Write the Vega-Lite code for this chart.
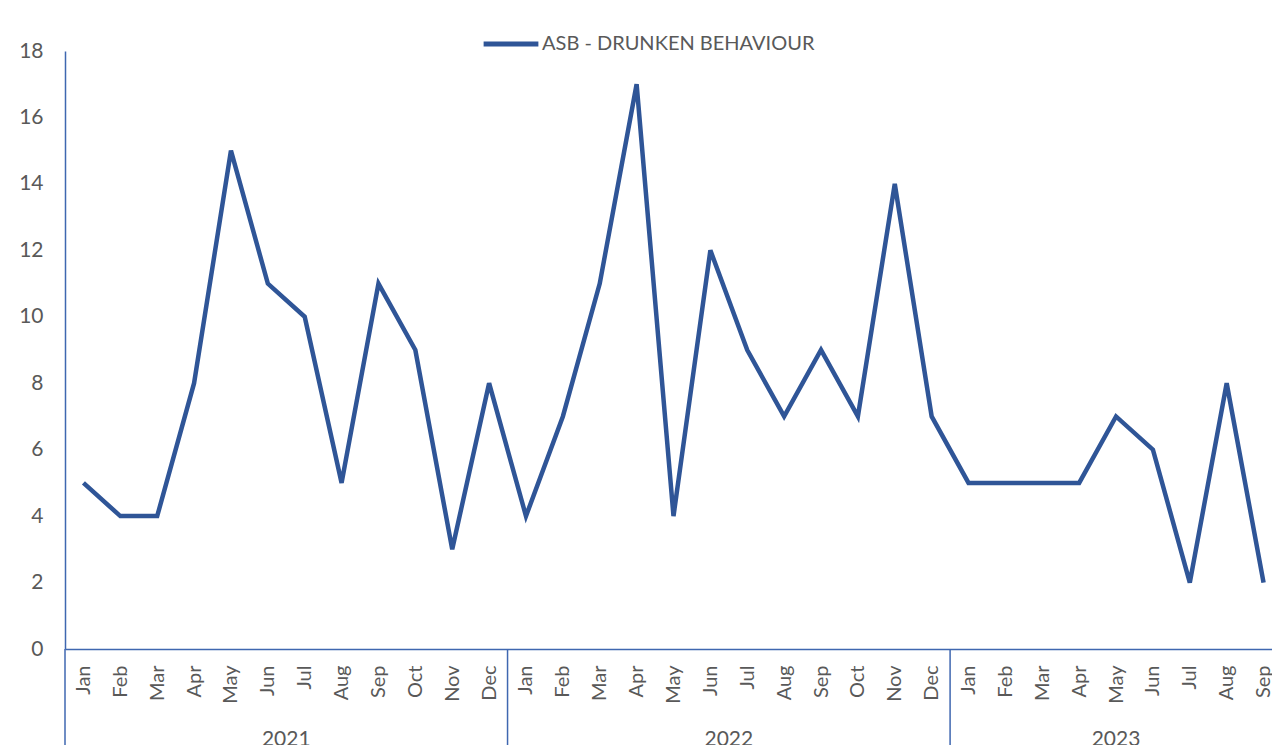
{
  "$schema": "https://vega.github.io/schema/vega-lite/v6.json",
  "width": 1207,
  "height": 598,
  "autosize": {"type": "none"},
  "padding": {"left": 65, "top": 51, "right": 0, "bottom": 96},
  "background": "white",
  "config": {
    "view": {"stroke": null},
    "font": "Lato",
    "text": {"font": "Lato"}
  },
  "datasets": {
    "main": [
      {"m": "Jan 2021", "v": 5}, {"m": "Feb 2021", "v": 4}, {"m": "Mar 2021", "v": 4},
      {"m": "Apr 2021", "v": 8}, {"m": "May 2021", "v": 15}, {"m": "Jun 2021", "v": 11},
      {"m": "Jul 2021", "v": 10}, {"m": "Aug 2021", "v": 5}, {"m": "Sep 2021", "v": 11},
      {"m": "Oct 2021", "v": 9}, {"m": "Nov 2021", "v": 3}, {"m": "Dec 2021", "v": 8},
      {"m": "Jan 2022", "v": 4}, {"m": "Feb 2022", "v": 7}, {"m": "Mar 2022", "v": 11},
      {"m": "Apr 2022", "v": 17}, {"m": "May 2022", "v": 4}, {"m": "Jun 2022", "v": 12},
      {"m": "Jul 2022", "v": 9}, {"m": "Aug 2022", "v": 7}, {"m": "Sep 2022", "v": 9},
      {"m": "Oct 2022", "v": 7}, {"m": "Nov 2022", "v": 14}, {"m": "Dec 2022", "v": 7},
      {"m": "Jan 2023", "v": 5}, {"m": "Feb 2023", "v": 5}, {"m": "Mar 2023", "v": 5},
      {"m": "Apr 2023", "v": 5}, {"m": "May 2023", "v": 7}, {"m": "Jun 2023", "v": 6},
      {"m": "Jul 2023", "v": 2}, {"m": "Aug 2023", "v": 8}, {"m": "Sep 2023", "v": 2}
    ],
    "years": [
      {"year": "2021", "mid": 6},
      {"year": "2022", "mid": 18},
      {"year": "2023", "mid": 28.5}
    ],
    "bounds": [
      {"b": 0}, {"b": 12}, {"b": 24}
    ]
  },
  "layer": [
    {
      "data": {"name": "bounds"},
      "mark": {"type": "rule", "color": "#3F67B0", "strokeWidth": 1.5},
      "encoding": {
        "x": {"field": "b", "type": "quantitative", "scale": {"domain": [0, 33], "range": [0, 1217]}, "axis": null},
        "y": {"datum": 0, "type": "quantitative", "scale": {"domain": [0, 18]}},
        "y2": {"datum": -3}
      }
    },
    {
      "data": {"name": "years"},
      "mark": {"type": "text", "fontSize": 21, "color": "#595959", "baseline": "alphabetic", "align": "center"},
      "encoding": {
        "x": {"field": "mid", "type": "quantitative", "scale": {"domain": [0, 33], "range": [0, 1217]}, "axis": null},
        "y": {"datum": -2.93, "type": "quantitative", "scale": {"domain": [0, 18]}},
        "text": {"field": "year"}
      }
    },
    {
      "data": {"name": "main"},
      "mark": {"type": "line", "strokeWidth": 4.5, "strokeJoin": "miter"},
      "encoding": {
        "x": {
          "field": "m", "type": "ordinal", "sort": null,
          "scale": {"range": [0, 1217], "paddingInner": 0, "paddingOuter": 0},
          "axis": {
            "title": null, "ticks": false, "labelAngle": -90, "labelPadding": 16,
            "labelExpr": "split(datum.label, ' ')[0]",
            "labelFontSize": 20, "labelColor": "#595959", "labelFont": "Lato",
            "domainColor": "#3F67B0", "domainWidth": 1.5, "grid": false
          }
        },
        "y": {
          "field": "v", "type": "quantitative",
          "scale": {"domain": [0, 18]},
          "axis": {
            "title": null, "values": [0, 2, 4, 6, 8, 10, 12, 14, 16, 18], "ticks": false,
            "labelPadding": 22, "labelFontSize": 21, "labelColor": "#595959", "labelFont": "Lato",
            "domainColor": "#3F67B0", "domainWidth": 1.5, "grid": false
          }
        },
        "color": {
          "datum": "ASB - DRUNKEN BEHAVIOUR",
          "scale": {"range": ["#2F5597"]},
          "legend": {
            "title": null, "orient": "none", "legendX": 416, "legendY": -37,
            "symbolType": "stroke", "symbolSize": 3000, "symbolStrokeWidth": 5,
            "labelFontSize": 20, "labelColor": "#595959", "labelFont": "Lato", "labelOffset": 1, "labelLimit": 500
          }
        }
      }
    }
  ],
  "resolve": {"scale": {"x": "independent"}}
}
